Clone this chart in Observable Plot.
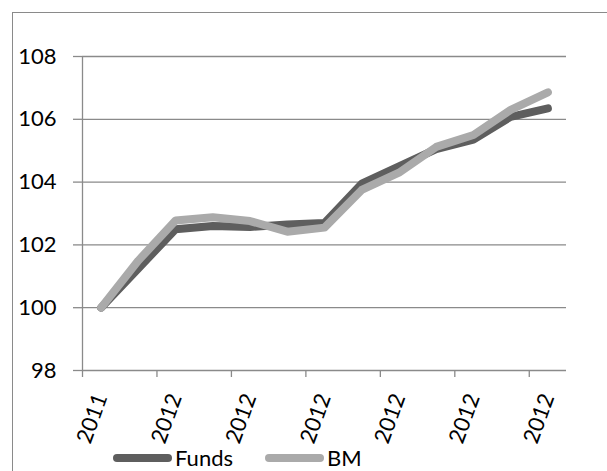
<!DOCTYPE html>
<html>
<head>
<meta charset="utf-8">
<script src="https://cdn.jsdelivr.net/npm/d3@7"></script>
<script src="https://cdn.jsdelivr.net/npm/@observablehq/plot@0.6"></script>
<style>
  html, body { margin: 0; padding: 0; background: #fff; overflow: hidden; }
  #wrap { position: relative; width: 607px; height: 471px; font-family: Lato, "Open Sans", sans-serif; }
  #chart svg { display: block; }
  #frame { position: absolute; left: 12px; top: 12px; width: 700px; height: 700px; border: 1.3px solid #8a8a8a; box-sizing: border-box; pointer-events: none; }
  #legend { position: absolute; top: 445px; left: 113px; display: flex; align-items: center; font-size: 22px; line-height: 26px; color: #000; height: 26px; }
  .item { display: flex; align-items: center; margin-right: 32px; }
  .sw { width: 59px; height: 8px; border-radius: 4px; margin-right: 3px; }
</style>
</head>
<body>
<div id="wrap"><div id="chart"></div><div id="frame"></div><div id="legend"></div></div>
<script>
// Categories (month-end points), shown with year labels
const categories = ["2011-12","2012-01","2012-02","2012-03","2012-04","2012-05","2012-06","2012-07","2012-08","2012-09","2012-10","2012-11","2012-12"];
const tickLabels = ["2011","2012","2012","2012","2012","2012","2012","2012","2012","2012","2012","2012","2012"];
const funds = [100, 101.25, 102.5, 102.6, 102.57, 102.65, 102.7, 103.95, 104.5, 105.05, 105.35, 106.08, 106.35];
const bm    = [100, 101.5, 102.78, 102.88, 102.76, 102.42, 102.55, 103.75, 104.3, 105.12, 105.5, 106.3, 106.86];
const yTicks = [98, 100, 102, 104, 106, 108];
const seriesNames = ["Funds", "BM"];
const seriesColors = ["#5e5e5e", "#aaaaaa"];

const n = categories.length;
const idx = d3.range(n);
const rows = [];
idx.forEach(i => rows.push({i, v: funds[i], s: "Funds"}));
idx.forEach(i => rows.push({i, v: bm[i], s: "BM"}));
const tickBetween = d3.range(0, n, 2).map(i => i - 0.5);
const labelAt = d3.range(0, n, 2);
const grid = "#8a8a8a";

const chart = Plot.plot({
  width: 607,
  height: 471,
  marginLeft: 82,
  marginRight: 41,
  marginTop: 56,
  marginBottom: 101,
  style: {fontFamily: "Lato, 'Open Sans', sans-serif", fontSize: "22px", color: "#000", background: "transparent"},
  x: {type: "linear", domain: [-0.5, n - 0.5]},
  y: {domain: [98, 108]},
  marks: [
    Plot.ruleY(yTicks, {stroke: grid, strokeWidth: 1.3}),
    Plot.ruleX([-0.5], {y1: 98, y2: 108, stroke: grid, strokeWidth: 1.3}),
    Plot.axisY({ticks: yTicks, tickSize: 9, tickPadding: 17, stroke: grid, strokeWidth: 1.3, strokeOpacity: 1, tickFormat: d => String(d), label: null, fill: "#000"}),
    Plot.axisX({ticks: tickBetween, tickSize: 7, tickFormat: () => "", stroke: grid, strokeWidth: 1.3, strokeOpacity: 1, label: null}),
    Plot.axisX({ticks: labelAt, tickSize: 0, tickPadding: 24, tickRotate: -70, textAnchor: "end", tickFormat: i => tickLabels[i], label: null, fill: "#000"}),
    Plot.line(rows, {x: "i", y: "v", z: "s", stroke: d => d.s === "Funds" ? seriesColors[0] : seriesColors[1], strokeWidth: 8, strokeLinecap: "round", strokeLinejoin: "round"})
  ]
});
document.getElementById("chart").appendChild(chart);

const legend = document.getElementById("legend");
seriesNames.forEach((name, k) => {
  const item = document.createElement("div");
  item.className = "item";
  const sw = document.createElement("div");
  sw.className = "sw";
  sw.style.background = seriesColors[k];
  const t = document.createElement("span");
  t.textContent = name;
  item.appendChild(sw);
  item.appendChild(t);
  legend.appendChild(item);
});
</script>
</body>
</html>
